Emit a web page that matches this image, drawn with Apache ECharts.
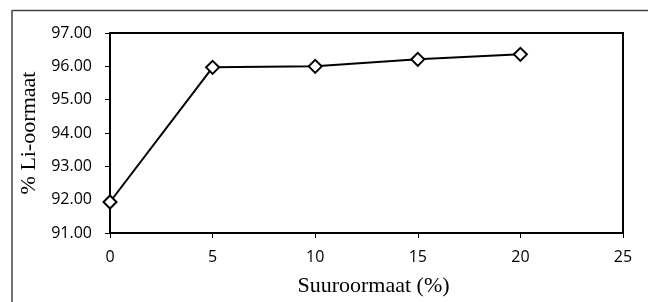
<!DOCTYPE html>
<html>
<head>
<meta charset="utf-8">
<script src="https://cdn.jsdelivr.net/npm/echarts@6/dist/echarts.min.js"></script>
<style>
  html, body { margin: 0; padding: 0; background: #fff; }
  #chart { width: 648px; height: 302px; }
</style>
</head>
<body>
<div id="chart"></div>
<script>
// acid ratio (%) vs Li ratio (%)
const acidRatio = [0, 5, 10, 15, 20]
const liRatio = [91.93, 95.97, 96.0, 96.21, 96.36]

const chart = echarts.init(document.getElementById('chart'))

const axisCommon = {
  axisLine: { show: true, lineStyle: { color: '#000', width: 2 } },
  axisTick: { show: true, length: 5, lineStyle: { color: '#000', width: 1 } },
  splitLine: { show: false }
}

chart.setOption({
  animation: false,
  backgroundColor: '#fff',
  graphic: [
    { type: 'line', shape: { x1: 12, y1: 10.5, x2: 648, y2: 10.5 }, style: { stroke: '#444', lineWidth: 1.5 } },
    { type: 'line', shape: { x1: 12, y1: 10, x2: 12, y2: 302 }, style: { stroke: '#444', lineWidth: 1.5 } }
  ],
  grid: {
    left: 110, top: 33, right: 25, bottom: 67,
    show: true, borderColor: '#000', borderWidth: 2
  },
  xAxis: {
    type: 'value',
    min: 0, max: 25, interval: 5,
    name: 'Suuroormaat (%)',
    nameLocation: 'middle',
    nameGap: 42,
    nameTextStyle: { fontFamily: 'Liberation Serif', fontSize: 22, color: '#000', padding: [0, 0, 0, 14] },
    axisLabel: { fontFamily: 'Open Sans', fontSize: 16, color: '#000', margin: 16 },
    ...axisCommon
  },
  yAxis: {
    type: 'value',
    min: 91, max: 97, interval: 1,
    name: '% Li-oormaat',
    nameLocation: 'middle',
    nameGap: 64,
    nameTextStyle: { fontFamily: 'Liberation Serif', fontSize: 22, color: '#000' },
    axisLabel: {
      fontFamily: 'Open Sans', fontSize: 16, color: '#000', margin: 18,
      formatter: v => v.toFixed(2)
    },
    ...axisCommon
  },
  series: [{
    type: 'line',
    data: acidRatio.map((x, i) => [x, liRatio[i]]),
    symbol: 'diamond',
    symbolSize: [13, 13],
    showAllSymbol: true,
    lineStyle: { color: '#000', width: 2 },
    itemStyle: { color: '#fff', borderColor: '#000', borderWidth: 2 }
  }]
})
</script>
</body>
</html>
